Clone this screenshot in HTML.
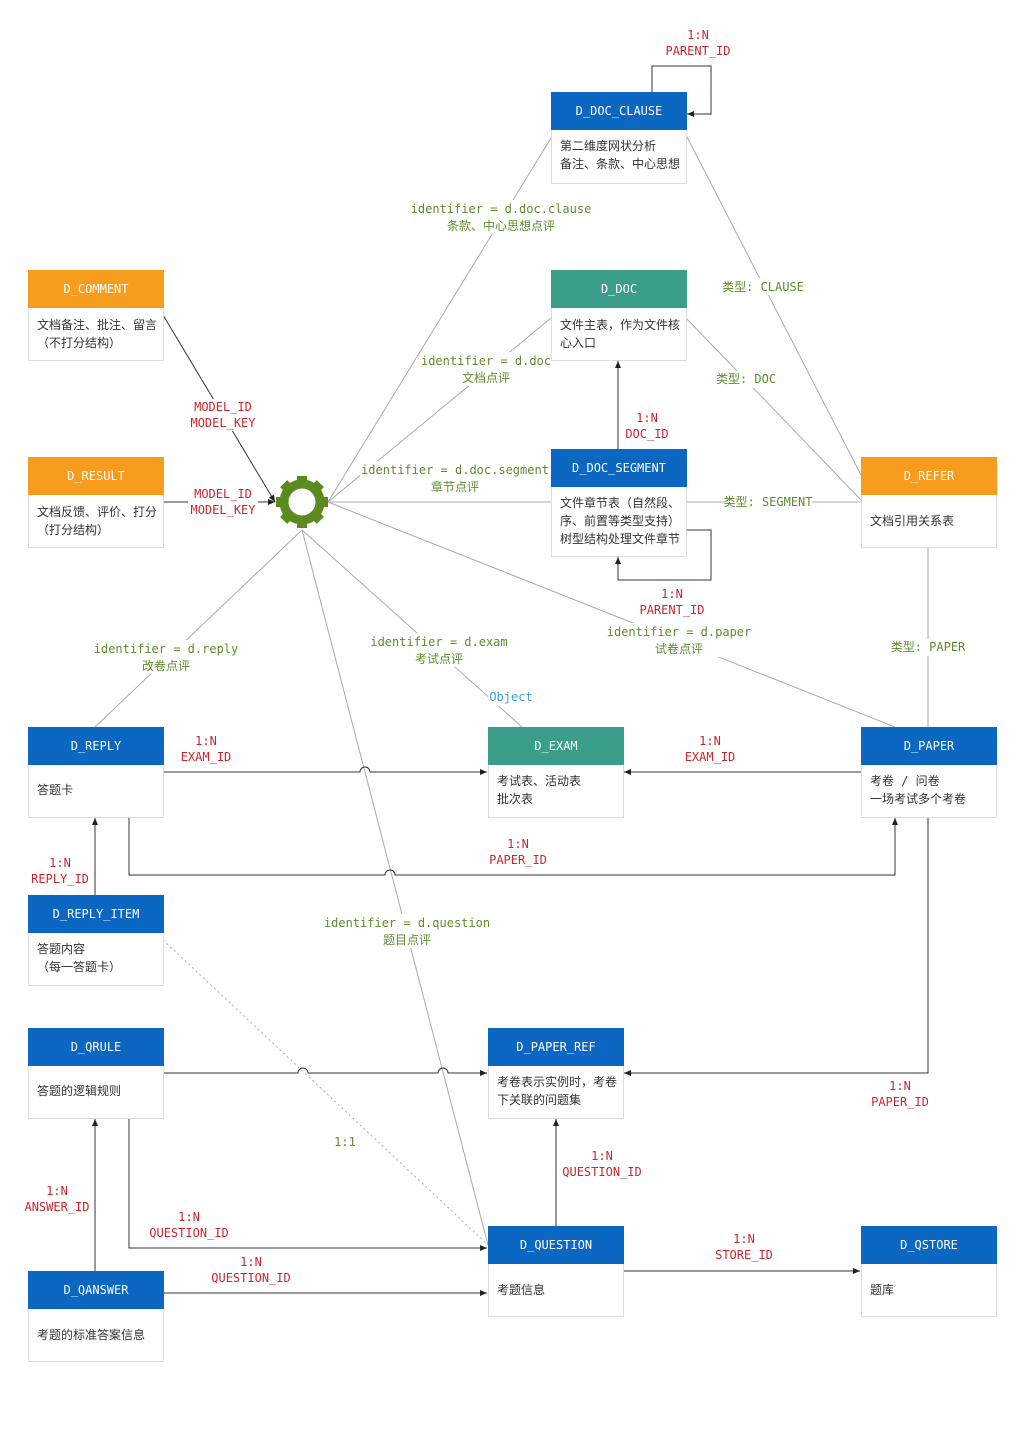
<!DOCTYPE html>
<html><head><meta charset="utf-8"><style>
body{margin:0;background:#fff;}
svg{display:block;}
text{font-family:"DejaVu Sans Mono","Liberation Mono","Noto Sans CJK SC",monospace;font-size:12px;}
.t{font-family:"DejaVu Sans Mono","Noto Sans CJK SC",monospace;font-size:12px;fill:#fff;text-anchor:middle;}
.b{font-family:"Liberation Sans","Noto Sans CJK SC",sans-serif;font-size:11.5px;fill:#333;}
.r{fill:#c8282d;text-anchor:middle;}
.g{fill:#5f8c2e;text-anchor:middle;}
.l{stroke:#aaa;stroke-width:1;fill:none;}
.d{stroke:#333;stroke-width:1;fill:none;}
</style></head><body>
<svg width="1024" height="1448" xmlns="http://www.w3.org/2000/svg">
<defs><marker id="a" markerWidth="8" markerHeight="8" refX="7" refY="4" orient="auto" markerUnits="userSpaceOnUse"><path d="M0,1 L7,4 L0,7 z" fill="#222"/></marker></defs>
<g class="l">
<line x1="328" y1="502" x2="551" y2="138"/>
<line x1="328" y1="502" x2="551" y2="318"/>
<line x1="328" y1="502" x2="551" y2="502"/>
<line x1="328" y1="502" x2="895" y2="727"/>
<line x1="302" y1="530" x2="95" y2="727"/>
<line x1="302" y1="530" x2="522" y2="727"/>
<line x1="302" y1="530" x2="488" y2="1245"/>
<line x1="686" y1="135" x2="861" y2="475"/>
<line x1="686" y1="318" x2="861" y2="500"/>
<line x1="686" y1="502" x2="861" y2="502"/>
<line x1="928" y1="547" x2="928" y2="727"/>
<line x1="163" y1="940" x2="488" y2="1245" stroke-dasharray="2,3"/>
</g>
<g class="d">
<path d="M163,315 L275,502" marker-end="url(#a)"/>
<path d="M163,502 L275,502" marker-end="url(#a)"/>
</g>
<g fill="#fff">
<rect x="410" y="200" width="182" height="34"/>
<rect x="420" y="352" width="132" height="34"/>
<rect x="360" y="461" width="190" height="34"/>
<rect x="92" y="640" width="148" height="34"/>
<rect x="368" y="633" width="142" height="34"/>
<rect x="605" y="623" width="148" height="34"/>
<rect x="322" y="914" width="170" height="34"/>
<rect x="722" y="278" width="82" height="17"/>
<rect x="716" y="371" width="60" height="17"/>
<rect x="724" y="493" width="88" height="17"/>
<rect x="890" y="639" width="76" height="17"/>
<rect x="488" y="689" width="46" height="17"/>
<rect x="332" y="1134" width="26" height="17"/>
<rect x="188" y="399" width="70" height="32"/>
<rect x="188" y="486" width="70" height="32"/>
</g>
<g class="d">
<path d="M652,92 V66 H711 V114 H687" marker-end="url(#a)"/>
<path d="M618,449 V361" marker-end="url(#a)"/>
<path d="M686,530 H711 V580 H618 V557" marker-end="url(#a)"/>
<path d="M163,772 H360 A5,5 0 0 1 370,772 H487" marker-end="url(#a)"/>
<path d="M861,772 H624" marker-end="url(#a)"/>
<path d="M129,817 V875 H385 A5,5 0 0 1 395,875 H895 V818" marker-end="url(#a)"/>
<path d="M95,895 V818" marker-end="url(#a)"/>
<path d="M163,1073 H298 A5,5 0 0 1 308,1073 H438 A5,5 0 0 1 448,1073 H487" marker-end="url(#a)"/>
<path d="M928,817 V1073 H624" marker-end="url(#a)"/>
<path d="M556,1226 V1119" marker-end="url(#a)"/>
<path d="M129,1118 V1248 H487" marker-end="url(#a)"/>
<path d="M95,1271 V1119" marker-end="url(#a)"/>
<path d="M163,1293 H487" marker-end="url(#a)"/>
<path d="M623,1271 H860" marker-end="url(#a)"/>
</g>
<g transform="translate(302,502)" fill="#5b8a1f">
<circle r="18" fill="none" stroke="#5b8a1f" stroke-width="9"/>
<g id="tt"><rect x="-5" y="-26" width="10" height="10"/></g>
<use href="#tt" transform="rotate(45)"/><use href="#tt" transform="rotate(90)"/><use href="#tt" transform="rotate(135)"/>
<use href="#tt" transform="rotate(180)"/><use href="#tt" transform="rotate(225)"/><use href="#tt" transform="rotate(270)"/><use href="#tt" transform="rotate(315)"/>
</g>
<g stroke="#ddd" fill="#fff">
<rect x="551.5" y="92.5" width="135" height="91"/>
<rect x="28.5" y="270.5" width="135" height="90"/>
<rect x="551.5" y="270.5" width="135" height="90"/>
<rect x="28.5" y="457.5" width="135" height="90"/>
<rect x="551.5" y="449.5" width="135" height="107"/>
<rect x="861.5" y="457.5" width="135" height="90"/>
<rect x="28.5" y="727.5" width="135" height="90"/>
<rect x="488.5" y="727.5" width="135" height="90"/>
<rect x="861.5" y="727.5" width="135" height="90"/>
<rect x="28.5" y="895.5" width="135" height="90"/>
<rect x="28.5" y="1028.5" width="135" height="90"/>
<rect x="488.5" y="1028.5" width="135" height="90"/>
<rect x="488.5" y="1226.5" width="135" height="90"/>
<rect x="861.5" y="1226.5" width="135" height="90"/>
<rect x="28.5" y="1271.5" width="135" height="90"/>
</g>
<g>
<rect x="551" y="92" width="136" height="38" fill="#0b67c2"/>
<rect x="28" y="270" width="136" height="38" fill="#f89c1e"/>
<rect x="551" y="270" width="136" height="38" fill="#3a9e8b"/>
<rect x="28" y="457" width="136" height="38" fill="#f89c1e"/>
<rect x="551" y="449" width="136" height="38" fill="#0b67c2"/>
<rect x="861" y="457" width="136" height="38" fill="#f89c1e"/>
<rect x="28" y="727" width="136" height="38" fill="#0b67c2"/>
<rect x="488" y="727" width="136" height="38" fill="#3a9e8b"/>
<rect x="861" y="727" width="136" height="38" fill="#0b67c2"/>
<rect x="28" y="895" width="136" height="38" fill="#0b67c2"/>
<rect x="28" y="1028" width="136" height="38" fill="#0b67c2"/>
<rect x="488" y="1028" width="136" height="38" fill="#0b67c2"/>
<rect x="488" y="1226" width="136" height="38" fill="#0b67c2"/>
<rect x="861" y="1226" width="136" height="38" fill="#0b67c2"/>
<rect x="28" y="1271" width="136" height="38" fill="#0b67c2"/>
</g>
<g class="t">
<text x="619" y="115">D_DOC_CLAUSE</text>
<text x="96" y="293">D_COMMENT</text>
<text x="619" y="293">D_DOC</text>
<text x="96" y="480">D_RESULT</text>
<text x="619" y="472">D_DOC_SEGMENT</text>
<text x="929" y="480">D_REFER</text>
<text x="96" y="750">D_REPLY</text>
<text x="556" y="750">D_EXAM</text>
<text x="929" y="750">D_PAPER</text>
<text x="96" y="918">D_REPLY_ITEM</text>
<text x="96" y="1051">D_QRULE</text>
<text x="556" y="1051">D_PAPER_REF</text>
<text x="556" y="1249">D_QUESTION</text>
<text x="929" y="1249">D_QSTORE</text>
<text x="96" y="1294">D_QANSWER</text>
</g>
<g class="b">
<text x="560" y="150">第二维度网状分析</text><text x="560" y="168">备注、条款、中心思想</text>
<text x="37" y="329">文档备注、批注、留言</text><text x="37" y="347">（不打分结构）</text>
<text x="560" y="329">文件主表，作为文件核</text><text x="560" y="347">心入口</text>
<text x="37" y="516">文档反馈、评价、打分</text><text x="37" y="534">（打分结构）</text>
<text x="560" y="507">文件章节表（自然段、</text><text x="560" y="525">序、前置等类型支持）</text><text x="560" y="543">树型结构处理文件章节</text>
<text x="870" y="525">文档引用关系表</text>
<text x="37" y="794">答题卡</text>
<text x="497" y="785">考试表、活动表</text><text x="497" y="803">批次表</text>
<text x="870" y="785">考卷 / 问卷</text><text x="870" y="803">一场考试多个考卷</text>
<text x="37" y="953">答题内容</text><text x="37" y="971">（每一答题卡）</text>
<text x="37" y="1095">答题的逻辑规则</text>
<text x="497" y="1086">考卷表示实例时，考卷</text><text x="497" y="1104">下关联的问题集</text>
<text x="497" y="1294">考题信息</text>
<text x="870" y="1294">题库</text>
<text x="37" y="1339">考题的标准答案信息</text>
</g>
<g class="r">
<text x="698" y="39">1:N</text><text x="698" y="55">PARENT_ID</text>
<text x="223" y="411">MODEL_ID</text><text x="223" y="427">MODEL_KEY</text>
<text x="223" y="498">MODEL_ID</text><text x="223" y="514">MODEL_KEY</text>
<text x="647" y="422">1:N</text><text x="647" y="438">DOC_ID</text>
<text x="672" y="598">1:N</text><text x="672" y="614">PARENT_ID</text>
<text x="206" y="745">1:N</text><text x="206" y="761">EXAM_ID</text>
<text x="710" y="745">1:N</text><text x="710" y="761">EXAM_ID</text>
<text x="518" y="848">1:N</text><text x="518" y="864">PAPER_ID</text>
<text x="60" y="867">1:N</text><text x="60" y="883">REPLY_ID</text>
<text x="900" y="1090">1:N</text><text x="900" y="1106">PAPER_ID</text>
<text x="602" y="1160">1:N</text><text x="602" y="1176">QUESTION_ID</text>
<text x="57" y="1195">1:N</text><text x="57" y="1211">ANSWER_ID</text>
<text x="189" y="1221">1:N</text><text x="189" y="1237">QUESTION_ID</text>
<text x="251" y="1266">1:N</text><text x="251" y="1282">QUESTION_ID</text>
<text x="744" y="1243">1:N</text><text x="744" y="1259">STORE_ID</text>
</g>
<g class="g">
<text x="501" y="213">identifier = d.doc.clause</text><text x="501" y="230">条款、中心思想点评</text>
<text x="486" y="365">identifier = d.doc</text><text x="486" y="382">文档点评</text>
<text x="455" y="474">identifier = d.doc.segment</text><text x="455" y="491">章节点评</text>
<text x="166" y="653">identifier = d.reply</text><text x="166" y="670">改卷点评</text>
<text x="439" y="646">identifier = d.exam</text><text x="439" y="663">考试点评</text>
<text x="679" y="636">identifier = d.paper</text><text x="679" y="653">试卷点评</text>
<text x="407" y="927">identifier = d.question</text><text x="407" y="944">题目点评</text>
<text x="763" y="291">类型: CLAUSE</text>
<text x="746" y="383">类型: DOC</text>
<text x="768" y="506">类型: SEGMENT</text>
<text x="928" y="651">类型: PAPER</text>
<text x="345" y="1146">1:1</text>
<text x="511" y="701" style="fill:#3aa0e0">Object</text>
</g>
</svg>
</body></html>
